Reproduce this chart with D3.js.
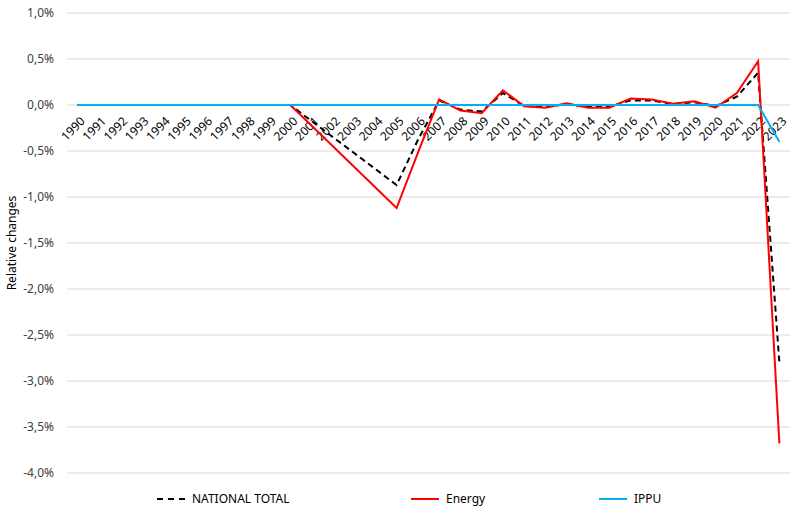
<!DOCTYPE html>
<html>
<head>
<meta charset="utf-8">
<script src="https://cdn.jsdelivr.net/npm/d3@7"></script>
<style>
  body { margin: 0; background: #fff; }
  svg text { font-family: "Noto Sans", "Open Sans", sans-serif; fill: #404040; }
</style>
</head>
<body>
<svg id="chart" width="803" height="519"></svg>
<script>
  // Years on the category axis
  var years = ["1990","1991","1992","1993","1994","1995","1996","1997","1998","1999",
    "2000","2001","2002","2003","2004","2005","2006","2007","2008","2009","2010",
    "2011","2012","2013","2014","2015","2016","2017","2018","2019","2020","2021",
    "2022","2023"];

  // Relative changes in percent; null = no value (line is joined across)
  var nationalTotal = [0,0,0,0,0,0,0,0,0,0,
    0,null,null,null,null,-0.87,-0.38,0.05,-0.05,-0.07,0.13,
    -0.01,-0.02,0.01,-0.02,-0.02,0.05,0.05,0.01,0.03,-0.01,0.09,
    0.35,-2.80];
  var energy = [0,0,0,0,0,0,0,0,0,0,
    0,null,null,null,null,-1.12,-0.52,0.06,-0.06,-0.09,0.16,
    -0.015,-0.03,0.02,-0.03,-0.03,0.07,0.06,0.015,0.04,-0.03,0.13,
    0.475,-3.68];
  var ippu = [0,0,0,0,0,0,0,0,0,0,
    0,0,0,0,0,0,0,0,0,0,0,
    0,0,0,0,0,0,0,0,0,0,0,
    0,-0.40];

  var yTicks = [1, 0.5, 0, -0.5, -1, -1.5, -2, -2.5, -3, -3.5, -4];

  var svg = d3.select("#chart");

  var margin = { left: 67, right: 13, top: 13, bottom: 46 };
  var w = 803, h = 519;

  var x = d3.scaleBand()
    .domain(years)
    .range([margin.left, w - margin.right]);

  var y = d3.scaleLinear()
    .domain([-4, 1])
    .range([h - margin.bottom, margin.top]);

  function fmt(v) {
    return d3.format(".1f")(v).replace("−", "-").replace(".", ",") + "%";
  }

  // Gridlines
  svg.append("g")
    .selectAll("line")
    .data(yTicks)
    .enter()
    .append("line")
    .attr("x1", margin.left)
    .attr("x2", w - margin.right)
    .attr("y1", function(d) { return y(d); })
    .attr("y2", function(d) { return y(d); })
    .attr("stroke", "#d9d9d9")
    .attr("stroke-width", 1);

  // Y tick labels
  svg.append("g")
    .selectAll("text")
    .data(yTicks)
    .enter()
    .append("text")
    .attr("x", 54)
    .attr("y", function(d) { return y(d); })
    .attr("dy", "0.35em")
    .attr("text-anchor", "end")
    .attr("font-size", 12)
    .text(fmt);

  // Y title
  svg.append("text")
    .attr("transform", "translate(16," + ((margin.top + h - margin.bottom) / 2) + ") rotate(-90)")
    .attr("text-anchor", "middle")
    .attr("font-size", 12)
    .style("fill", "#000")
    .text("Relative changes");

  // X labels, rotated, sitting under the zero line
  svg.append("g")
    .selectAll("text")
    .data(years)
    .enter()
    .append("text")
    .attr("transform", function(d) {
      var cx = x(d) + x.bandwidth() / 2 + 5;
      return "translate(" + cx + "," + (y(0) + 14) + ") rotate(-45)";
    })
    .attr("text-anchor", "end")
    .attr("dy", "0.35em")
    .attr("font-size", 12)
    .style("fill", "#000")
    .text(function(d) { return d; });

  function seriesPoints(values) {
    return years.map(function(yr, i) { return { year: yr, value: values[i] }; })
      .filter(function(p) { return p.value !== null; });
  }

  var line = d3.line()
    .x(function(d) { return x(d.year) + x.bandwidth() / 2; })
    .y(function(d) { return y(d.value); });

  var series = [
    { name: "NATIONAL TOTAL", values: nationalTotal, color: "#000000", dash: "6,4" },
    { name: "Energy", values: energy, color: "#ff0000", dash: null },
    { name: "IPPU", values: ippu, color: "#00b0f0", dash: null }
  ];

  svg.append("g")
    .selectAll("path")
    .data(series)
    .enter()
    .append("path")
    .attr("fill", "none")
    .attr("stroke", function(d) { return d.color; })
    .attr("stroke-width", 2)
    .attr("stroke-dasharray", function(d) { return d.dash; })
    .attr("d", function(d) { return line(seriesPoints(d.values)); });

  // Legend
  var legendX = [157, 411, 599];
  var legend = svg.append("g")
    .selectAll("g")
    .data(series)
    .enter()
    .append("g")
    .attr("transform", function(d, i) { return "translate(" + legendX[i] + ",499)"; });

  legend.append("line")
    .attr("x1", 0)
    .attr("x2", 28)
    .attr("stroke", function(d) { return d.color; })
    .attr("stroke-width", 2)
    .attr("stroke-dasharray", function(d) { return d.dash ? "6,5" : null; });

  legend.append("text")
    .attr("x", 35)
    .attr("dy", "0.35em")
    .attr("font-size", 12)
    .style("fill", "#000")
    .text(function(d) { return d.name; });
</script>
</body>
</html>
